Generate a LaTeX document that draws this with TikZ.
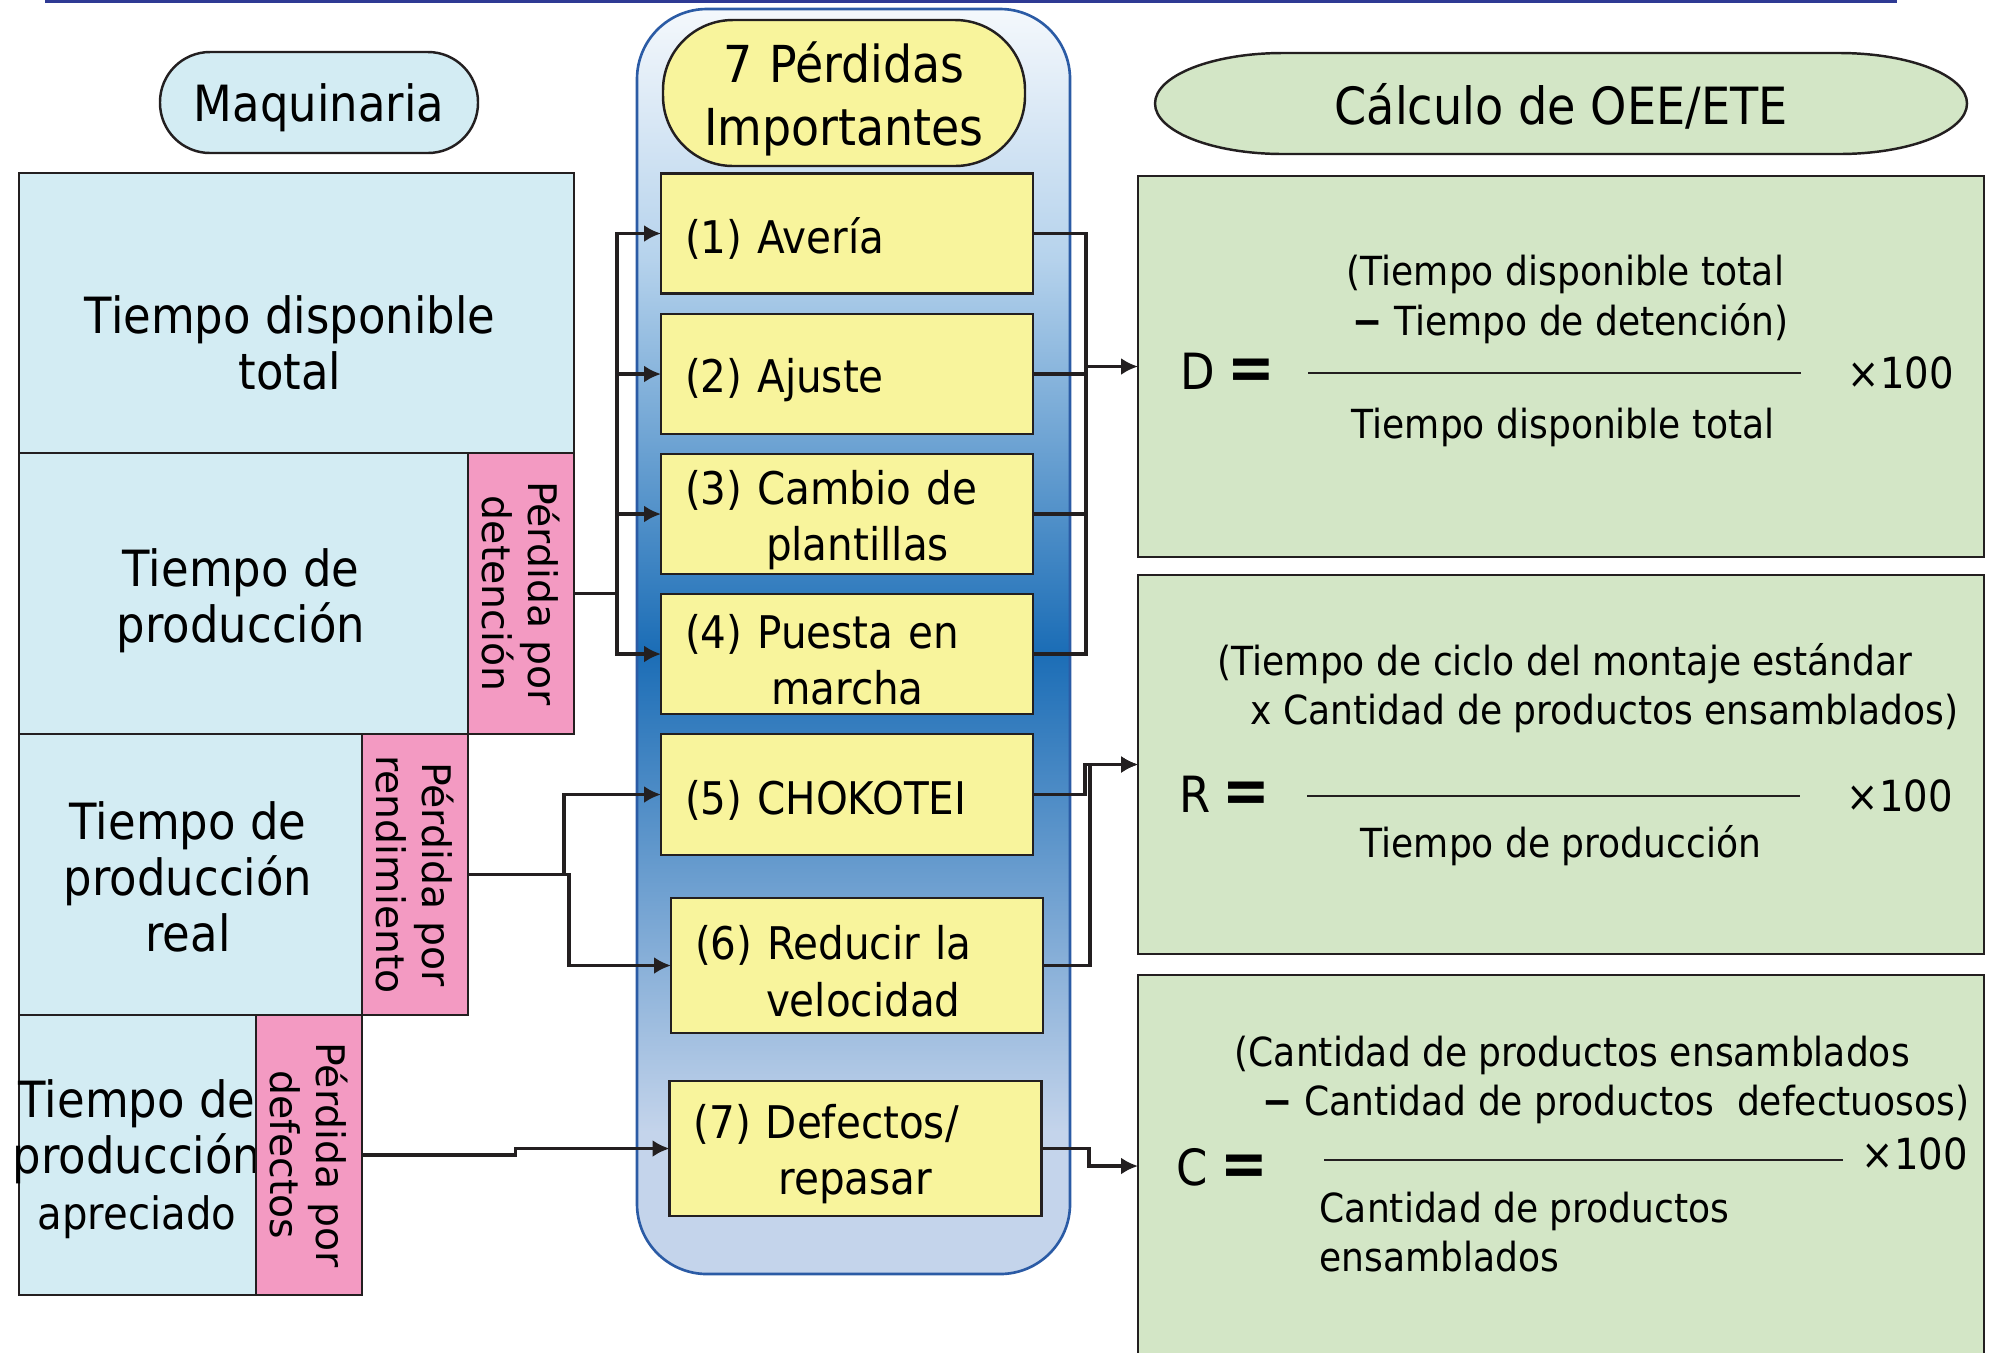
\documentclass[tikz,border=0pt]{standalone}
\usepackage{fontspec}
\setmainfont{DejaVu Sans}[FakeStretch=0.9]
\newfontfamily\vertfamily{DejaVu Sans}
\usepackage{graphicx}
\usetikzlibrary{arrows.meta,positioning}
\definecolor{MachCyan}{HTML}{D3ECF3}
\definecolor{CutPink}{HTML}{F39AC2}
\definecolor{LossYellow}{HTML}{F8F49C}
\definecolor{CalcGreen}{HTML}{D3E6C6}
\definecolor{EdgeInk}{HTML}{231F20}
\definecolor{BandEdge}{HTML}{2B5BA5}
\definecolor{BandTop}{HTML}{F4F8FC}
\definecolor{BandLight}{HTML}{B5D2EC}
\definecolor{BandDeep}{HTML}{1B6DB6}
\definecolor{BandLow}{HTML}{C4D4EB}
\definecolor{RuleBlue}{HTML}{2E3A94}
\newcommand{\boxfont}{\fontsize{14.2}{15.9}\selectfont}
\newcommand{\apfont}{\fontsize{12.7}{15.9}\selectfont}
\newcommand{\lossfont}{\fontsize{12.8}{16}\selectfont}
\newcommand{\sietefont}{\fontsize{14.5}{17.9}\selectfont}
\newcommand{\vertfont}{\vertfamily\fontsize{11.2}{13.1}\selectfont}
\newcommand{\formfont}{\fontsize{11.4}{13}\selectfont}
\newcommand{\letterfont}{\fontsize{14.2}{16}\selectfont}
\newcommand{\eqfont}{\fontsize{18}{20}\selectfont\bfseries}
\newcommand{\timesfont}{\fontsize{12.2}{14}\selectfont}
\newcommand{\vtext}[1]{\rotatebox{-90}{\begin{tabular}{@{}c@{}}#1\end{tabular}}\hspace*{1.2mm}}
\tikzset{
  timebox/.style={draw=EdgeInk,fill=MachCyan,line width=0.7pt,inner sep=0pt,outer sep=0pt,align=center,font=\boxfont},
  timetext/.style={inner sep=0pt,align=center,font=\boxfont},
  cutbox/.style={draw=EdgeInk,fill=CutPink,line width=0.7pt,inner sep=0pt,outer sep=0pt,font=\vertfont},
  sietebox/.style={draw=EdgeInk,fill=LossYellow,line width=0.7pt,rounded corners=7mm,inner sep=0pt,text width=32mm,align=center,font=\sietefont,
    execute at begin node={\rule{0pt}{15pt}}},
  lossbox/.style={draw=EdgeInk,fill=LossYellow,line width=0.7pt,inner xsep=2.4mm,inner ysep=0pt,outer sep=0pt,text width=32.4mm,align=left,font=\lossfont,
    execute at begin node={\rule{0pt}{13pt}}},
  calcbox/.style={draw=EdgeInk,fill=CalcGreen,line width=0.7pt,inner sep=0pt,outer sep=0pt,minimum width=84.6mm},
  formula/.style={anchor=base west,inner sep=0pt,font=\formfont},
  fracbar/.style={draw=EdgeInk,line width=0.55pt},
  conn/.style={draw=EdgeInk,line width=0.9pt}
}
\begin{document}
\begin{tikzpicture}[x=0.1mm,y=-0.1mm,>={Latex[length=4.8pt,width=4.8pt]}]
  \path[use as bounding box,clip] (0,0) rectangle (1991,1352);
  \draw[RuleBlue,line width=0.5mm] (45,0) -- (1897,0);
  % band behind the seven losses
  \begin{scope}
    \clip[rounded corners=7mm] (637,9) rectangle (1070,1274);
    \shade[top color=BandTop,bottom color=BandLight] (637,9) rectangle (1070,262);
    \shade[top color=BandLight,bottom color=BandDeep] (637,261) rectangle (1070,652);
    \shade[top color=BandDeep,bottom color=BandLow] (637,651) rectangle (1070,1132);
    \fill[BandLow] (637,1131) rectangle (1070,1274);
  \end{scope}
  \draw[BandEdge,line width=0.75pt,rounded corners=7mm] (637,9) rectangle (1070,1274);

  % machine times
  \node[timebox,rounded corners=5mm,minimum width=31.8mm,minimum height=10.1mm,text depth=0pt] (maq) at (319,102.5) {Maquinaria};
  \node[timebox,minimum width=55.5mm,minimum height=28mm] (disp) at (296.5,313) {};
  \node[timetext] (dispText) at (290,343) {Tiempo disponible\\total};
  \node[timebox,minimum width=44.9mm,minimum height=28.1mm] (prod) at (243.5,593.5) {};
  \node[timetext] (prodText) at (241,600.5) {Tiempo de\\producción};
  \node[cutbox,minimum width=10.6mm,minimum height=28.1mm] (pdet) at (521,593.5) {\vtext{Pérdida por\\detención}};
  \node[timebox,minimum width=34.3mm,minimum height=28.1mm] (real) at (190.5,874.5) {};
  \node[timetext] (realText) at (188,877) {Tiempo de\\producción\\real};
  \node[cutbox,minimum width=10.6mm,minimum height=28.1mm] (prend) at (415,874.5) {\vtext{Pérdida por\\rendimiento}};
  \node[timebox,minimum width=23.7mm,minimum height=28mm] (apre) at (137.5,1155) {};
  \node[timetext] (apreText) at (137,1159) {Tiempo de\\producción\\{\apfont apreciado}};
  \node[cutbox,minimum width=10.6mm,minimum height=28mm] (pdef) at (309,1155) {\vtext{Pérdida por\\defectos}};

  % seven losses
  \node[sietebox,minimum width=36.2mm,minimum height=14.6mm] (siete) at (844,93) {7 Pérdidas\\Importantes};
  \node[lossbox,minimum height=12mm] (l1) at (847,233.5) {(1) Avería};
  \node[lossbox,minimum height=12mm] (l2) at (847,374) {(2) Ajuste};
  \node[lossbox,minimum height=12mm] (l3) at (847,514) {(3) Cambio de\\\hspace*{8.1mm}plantillas};
  \node[lossbox,minimum height=12mm] (l4) at (847,654) {(4) Puesta en\\\hspace*{8.6mm}marcha};
  \node[lossbox,minimum height=12.1mm] (l5) at (847,794.5) {(5) CHOKOTEI};
  \node[lossbox,minimum height=13.5mm] (l6) at (857,965.5) {(6) Reducir la\\\hspace*{7.1mm}velocidad};
  \node[lossbox,minimum height=13.5mm] (l7) at (855.5,1148.5) {(7) Defectos/\\\hspace*{8.5mm}repasar};

  % OEE/ETE formulas
  \path[fill=CalcGreen,draw=EdgeInk,line width=0.7pt] (1283,53) -- (1839,53)
    arc[start angle=90,end angle=-90,x radius=12.8mm,y radius=5.05mm] -- (1283,154)
    arc[start angle=270,end angle=90,x radius=12.8mm,y radius=5.05mm] -- cycle;
  \node[inner sep=0pt,text depth=0pt,font=\fontsize{14.6}{16}\selectfont] (calc) at (1561,103.5) {Cálculo de OEE/ETE};
  \node[calcbox,minimum height=38.1mm] (fD) at (1561,366.5) {};
  \node[calcbox,minimum height=37.9mm] (fR) at (1561,764.5) {};
  \node[calcbox,minimum height=38.2mm] (fC) at (1561,1166) {};

  \node[formula] (dTop) at (1346,285) {(Tiempo disponible total};
  \node[formula] (dMid) at (1352,335) {{\bfseries −} Tiempo de detención)};
  \draw[fracbar] (1308,373) -- (1801,373);
  \node[formula,font=\letterfont] (dLet) at (1180,389) {D\hspace{1.2mm}{\eqfont =}};
  \node[formula,font=\timesfont] (dTimes) at (1847,388) {×100};
  \node[formula] (dBot) at (1351,438) {Tiempo disponible total};

  \node[formula] (rTop) at (1217,675) {(Tiempo de ciclo del montaje estándar};
  \node[formula] (rMid) at (1250,724) {x Cantidad de productos ensamblados)};
  \draw[fracbar] (1307,796) -- (1800,796);
  \node[formula,font=\letterfont] (rLet) at (1179,812) {R\hspace{1.2mm}{\eqfont =}};
  \node[formula,font=\timesfont] (rTimes) at (1846,811) {×100};
  \node[formula] (rBot) at (1360,857) {Tiempo de producción};

  \node[formula] (cTop) at (1234,1066) {(Cantidad de productos ensamblados};
  \node[formula] (cMid) at (1262,1115) {{\bfseries −} Cantidad de productos~ defectuosos)};
  \draw[fracbar] (1324,1160) -- (1843,1160);
  \node[formula,font=\letterfont] (cLet) at (1176,1185) {C\hspace{1.2mm}{\eqfont =}};
  \node[formula,font=\timesfont] (cTimes) at (1861,1169) {×100};
  \node[formula] (cBot) at (1319,1222) {Cantidad de productos};
  \node[formula] (cBot2) at (1319,1271) {ensamblados};

  % connectors
  \coordinate (busL) at ([xshift=4.3mm]pdet.east);
  \draw[conn] (pdet.east) -- (busL);
  \foreach \k in {1,...,4}
    \draw[conn,->] (busL) |- (l\k.west);
  \coordinate (busR) at ([xshift=-5.2mm]fD.west);
  \foreach \k in {1,...,4}
    \draw[conn] (l\k.east) -| (busR);
  \draw[conn,->] (busR) -- (fD.west);
  \draw[conn,->] (prend.east) -| ([xshift=-9.7mm]l5.west) -- (l5.west);
  \draw[conn,->] (prend.east) -| ([xshift=-10.2mm]l6.west) -- (l6.west);
  \draw[conn,->] (pdef.east) -| ([xshift=-15.4mm]l7.west) -- (l7.west);
  \draw[conn,->] (l5.east) -| ([xshift=-5.3mm]fR.west) -- (fR.west);
  \draw[conn,->] (l6.east) -| ([xshift=-4.8mm]fR.west) -- (fR.west);
  \draw[conn,->] (l7.east) -| ([xshift=-4.9mm]fC.west) -- (fC.west);
\end{tikzpicture}
\end{document}
